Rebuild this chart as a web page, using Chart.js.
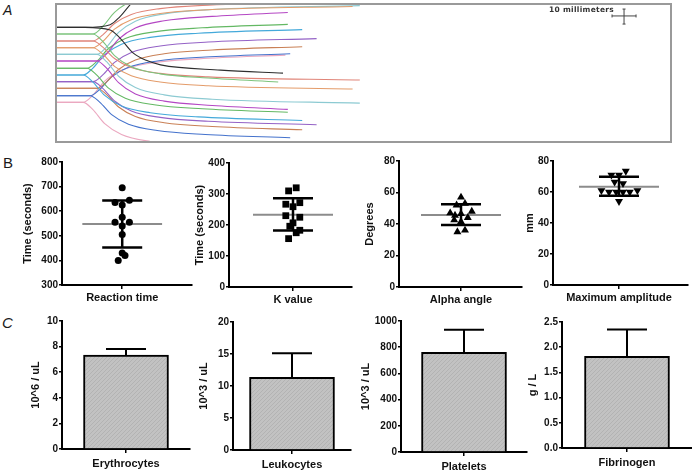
<!DOCTYPE html>
<html>
<head>
<meta charset="utf-8">
<script src="https://cdn.jsdelivr.net/npm/chart.js@4.4.1/dist/chart.umd.min.js"></script>
<style>
  body { margin: 0; background: #fff; }
  #page { position: relative; width: 692px; height: 473px; overflow: hidden;
          font-family: "Liberation Sans", Arial, sans-serif; color: #1a1a1a; }
  canvas { position: absolute; }
  .letter { position: absolute; font-family: "Liberation Sans", Arial, sans-serif; }
  #boxA { position: absolute; left: 55px; top: 3px; width: 617px; height: 140px;
          border: 2px solid #9a9a9a; box-sizing: border-box; }
  #scaleText { position: absolute; left: 549px; top: 5px; font: bold 7.5px "DejaVu Sans", sans-serif;
               color: #333; letter-spacing: 0.3px; white-space: nowrap; }
</style>
</head>
<body>
<div id="page">
  <div class="letter" style="left:3px;top:2px;font-size:14px;font-style:italic;">A</div>
  <div class="letter" style="left:3px;top:154px;font-size:15px;">B</div>
  <div class="letter" style="left:2px;top:314px;font-size:15px;font-style:italic;">C</div>
  <div id="boxA"><canvas id="tegChart" width="613" height="136" style="left:0;top:0"></canvas></div>
  <div id="scaleText">10 millimeters</div>
</div>
<script>
// ---- Panel A: thromboelastography traces, x = time (mm), y = amplitude (mm) ----
const tegColors = ['#2e2e2e', '#7cc47c', '#e08478', '#e49c6a', '#8ccad2', '#b447c4',
                   '#63b863', '#44a9da', '#9462c6', '#c98056', '#4472cc', '#eba8c0'];
const tegBaseline = [77.1, 72.7, 68.0, 63.5, 59.1, 54.7, 49.8, 45.3, 40.9, 36.5, 31.5, 27.1];
// [time, half amplitude]
const tegProfiles = [
  [[0,0],[12.5,0],[23,1.8],[27,7],[32.5,17],[38,22],[44,25],[69,28.5],[95,30.5]],
  [[0,0],[15.8,0],[19.8,4.8],[24.8,14.4],[31.8,21.8],[43.8,26.6],[63.8,29.4],[93,32]],
  [[0,0],[15.8,0],[19.8,3.9],[24.8,11.7],[31.8,17.7],[43.8,21.6],[63.8,23.9],[127,26]],
  [[0,0],[15.8,0],[19.8,4.1],[24.8,12.4],[31.8,18.7],[43.8,22.8],[63.8,25.3],[124,27.5]],
  [[0,0],[17.5,0],[21.5,4.9],[26.5,14.6],[33.5,22.1],[45.5,27],[65.5,29.9],[127,32.5]],
  [[0,0],[17.5,0],[21.5,4.8],[26.5,14.5],[33.5,22],[45.5,26.8],[65.5,29.7],[97,32.3]],
  [[0,0],[13.3,0],[17.3,4.4],[22.3,13.2],[29.3,19.9],[41.3,24.3],[61.3,27],[97,29.3]],
  [[0,0],[11.7,0],[15.7,4.5],[20.7,13.6],[27.7,20.6],[39.7,25.1],[59.7,27.9],[103,30.3]],
  [[0,0],[15.8,0],[19.8,4.3],[24.8,12.9],[31.8,19.5],[43.8,23.8],[63.8,26.4],[109,28.7]],
  [[0,0],[17.5,0],[21.5,4.2],[26.5,12.5],[33.5,18.8],[45.5,23],[65.5,25.5],[103,27.7]],
  [[0,0],[14.6,0],[18.6,4.2],[23.6,12.6],[30.6,19],[42.6,23.2],[62.6,25.8],[98,28]],
  [[0,0],[11.7,0],[15.7,4.7],[20.7,14.2],[27.7,21.4],[39.7,26.1],[59.7,29],[96,31.5]]
];
const scaleBarH = [{x: 232.1, y: 84.7}, {x: 242.1, y: 84.7}];
const scaleBarV = [{x: 237.1, y: 79.3}, {x: 237.1, y: 89.3}];

// ---- Panel B: scatter with mean and SD ----
const scatterNames = ['Reaction time', 'K value', 'Alpha angle', 'Maximum amplitude'];
const scatterUnits = ['Time (seconds)', 'Time (seconds)', 'Degrees', 'mm'];
const scatterMin = [300, 0, 0, 0];
const scatterMax = [800, 400, 80, 80];
const scatterStep = [100, 100, 20, 20];
const rtValues = [695, 635, 645, 625, 575, 555, 555, 540, 505, 430, 420, 400];
const rtJitter = [0, -0.18, 0.18, 0, 0, -0.18, 0.18, 0, 0, 0, 0.07, -0.1];
const kValues = [310, 320, 267, 272, 259, 230, 225, 207, 196, 183, 175, 156];
const kJitter = [-0.11, 0.08, -0.18, 0.17, 0, -0.18, 0.17, 0, -0.08, 0.17, 0.08, -0.11];
const alphaValues = [57, 52, 53, 47, 48, 45.5, 46.5, 44, 42.5, 41.5, 35, 36];
const alphaJitter = [0, -0.11, 0.1, -0.27, 0.27, -0.15, 0, 0.17, -0.17, 0, -0.09, 0.1];
const maValues = [73.5, 71, 71, 66.5, 65.5, 61, 60, 60, 60, 60, 61, 54];
const maJitter = [0.17, -0.19, 0, -0.11, 0.1, -0.44, -0.25, -0.07, 0.1, 0.27, 0.46, 0];
const scatterMean = [548, 233, 45.7, 63.4];
const scatterSdLow = [452, 182, 39.3, 57.6];
const scatterSdHigh = [643, 286, 52.5, 69.8];

// ---- Panel C: bars with SD ----
const cellCategories = ['Erythrocytes', 'Leukocytes', 'Platelets', 'Fibrinogen'];
const cellUnits = ['10^6 / uL', '10^3 / uL', '10^3 / uL', 'g / L'];
const cellMeans = [7.33, 11.35, 760, 1.82];
const cellErrTop = [7.82, 15.1, 934, 2.35];
const cellMax = [10, 20, 1000, 2.5];
const cellStep = [2, 5, 200, 0.5];
const cellDecimals = [0, 0, 0, 1];

Chart.defaults.font.family = '"Liberation Sans", Arial, sans-serif';
Chart.defaults.color = '#111';

// plot-area frames on the page (L,T,R,B) and y-axis box width
const frameB = [
  {L: 62, T: 162, R: 192, B: 285, W: 43, x0: -1.51, x1: 1.75},
  {L: 229, T: 163, R: 352, B: 287, W: 38, x0: -1.6, x1: 1.475},
  {L: 399, T: 161, R: 522, B: 287, W: 38, x0: -1.55, x1: 1.525},
  {L: 553, T: 161, R: 688, B: 285, W: 32, x0: -1.65, x1: 1.725}
];
const frameC = [
  {L: 62, T: 321, R: 190, B: 449, W: 35},
  {L: 233, T: 322, R: 351, B: 450, W: 38},
  {L: 401, T: 321, R: 527, B: 452, W: 44},
  {L: 562, T: 322, R: 692, B: 448, W: 38}
];

function addCanvas(f, padTop, padRight, xh) {
  const cv = document.createElement('canvas');
  const left = f.L - f.W, top = f.T - padTop;
  cv.width = f.R + padRight - left;
  cv.height = f.B + xh - top;
  cv.style.left = left + 'px';
  cv.style.top = top + 'px';
  document.getElementById('page').appendChild(cv);
  return cv;
}

const axisGrid = { drawOnChartArea: false, tickLength: 3, color: '#000', lineWidth: 1.5 };
const axisBorder = { display: true, color: '#000', width: 2 };

function yAxis(f, min, max, step, unit, dec) {
  return {
    min: min, max: max,
    afterFit: s => { s.width = f.W; },
    ticks: { stepSize: step, padding: 1, font: { size: 10, weight: 'bold' },
             callback: v => Number(v).toFixed(dec) },
    title: { display: true, text: unit, font: { size: 11, weight: 'bold' }, padding: { top: 2, bottom: 0 } },
    grid: axisGrid, border: axisBorder
  };
}

// Panel A
(function () {
  const sets = [];
  tegProfiles.forEach((prof, k) => {
    [1, -1].forEach(sign => {
      sets.push({
        data: prof.map(p => ({x: p[0], y: tegBaseline[k] + sign * p[1]})),
        showLine: true, borderColor: tegColors[k], borderWidth: 1.1, pointRadius: 0,
        cubicInterpolationMode: 'monotone'
      });
    });
  });
  sets.push({ data: scaleBarH, showLine: true, borderColor: '#444', borderWidth: 1,
              pointStyle: 'line', pointRotation: 90, pointRadius: 1.5, pointBorderColor: '#444', pointBorderWidth: 1 });
  sets.push({ data: scaleBarV, showLine: true, borderColor: '#444', borderWidth: 1,
              pointStyle: 'line', pointRotation: 0, pointRadius: 1.5, pointBorderColor: '#444', pointBorderWidth: 1 });
  new Chart(document.getElementById('tegChart'), {
    type: 'scatter',
    data: { datasets: sets },
    options: {
      responsive: false, animation: false, devicePixelRatio: 1,
      layout: { padding: 0, autoPadding: false },
      plugins: { legend: { display: false }, tooltip: { enabled: false } },
      scales: {
        x: { type: 'linear', display: false, min: 0.83, max: 256.25 },
        y: { type: 'linear', display: false, min: 1.33, max: 92 }
      }
    }
  });
})();

// Panel B
const scatterValues = [rtValues, kValues, alphaValues, maValues];
const scatterJitter = [rtJitter, kJitter, alphaJitter, maJitter];
const markerStyle = ['circle', 'rect', 'triangle', 'triangle'];
const markerRotation = [0, 0, 0, 180];
const markerRadius = [3.5, 4.8, 4.6, 4.6];

scatterNames.forEach((name, i) => {
  const f = frameB[i];
  const cv = addCanvas(f, 8, 4, 26);
  const pts = scatterValues[i].map((v, k) => ({x: scatterJitter[i][k], y: v}));
  new Chart(cv, {
    type: 'scatter',
    data: { datasets: [
      { data: pts, pointStyle: markerStyle[i], pointRotation: markerRotation[i], pointRadius: markerRadius[i],
        backgroundColor: '#000', borderColor: '#000', borderWidth: 0, order: 0 },
      { data: [{x: 0, y: scatterSdLow[i]}, {x: 0, y: scatterSdHigh[i]}], showLine: true,
        borderColor: '#000', borderWidth: 2.5, pointStyle: 'line', pointRadius: 20,
        pointBorderColor: '#000', pointBorderWidth: 2.5, order: 1 },
      { data: [{x: -1, y: scatterMean[i]}, {x: 1, y: scatterMean[i]}], showLine: true,
        borderColor: '#8c8c8c', borderWidth: 2, pointRadius: 0, order: 2 }
    ]},
    options: {
      responsive: false, animation: false, devicePixelRatio: 1,
      layout: { padding: { top: 8, right: 4, left: 0, bottom: 0 }, autoPadding: false },
      plugins: { legend: { display: false }, tooltip: { enabled: false } },
      scales: {
        x: { type: 'linear', min: f.x0, max: f.x1,
             afterBuildTicks: s => { s.ticks = [{value: 0}]; },
             afterFit: s => { s.height = 26; },
             ticks: { callback: () => name, maxRotation: 0, padding: 2, font: { size: 11, weight: 'bold' } },
             grid: Object.assign({}, axisGrid, { tickLength: 4 }), border: axisBorder },
        y: yAxis(f, scatterMin[i], scatterMax[i], scatterStep[i], scatterUnits[i], 0)
      }
    }
  });
});

// Panel C
function hatch() {
  const c = document.createElement('canvas');
  c.width = 4; c.height = 4;
  const g = c.getContext('2d');
  g.fillStyle = '#c2c2c2'; g.fillRect(0, 0, 4, 4);
  g.strokeStyle = '#b3b3b3'; g.lineWidth = 1;
  g.beginPath(); g.moveTo(0, 4); g.lineTo(4, 0); g.stroke();
  return g.createPattern(c, 'repeat');
}
const barFill = hatch();

cellCategories.forEach((cat, i) => {
  const f = frameC[i];
  const cv = addCanvas(f, 8, 4, 30);
  new Chart(cv, {
    type: 'bar',
    data: {
      labels: [cat],
      datasets: [
        { data: [cellMeans[i]], backgroundColor: barFill, borderColor: '#000', borderWidth: 2,
          barThickness: 85, order: 0 },
        { type: 'line', data: [{x: cat, y: cellMeans[i]}, {x: cat, y: cellErrTop[i]}],
          borderColor: '#000', borderWidth: 2, pointStyle: 'line', pointRadius: [0, 20],
          pointBorderColor: '#000', pointBorderWidth: 2, order: 1 }
      ]
    },
    options: {
      responsive: false, animation: false, devicePixelRatio: 1,
      layout: { padding: { top: 8, right: 4, left: 0, bottom: 0 }, autoPadding: false },
      plugins: { legend: { display: false }, tooltip: { enabled: false } },
      scales: {
        x: { afterFit: s => { s.height = 30; },
             ticks: { maxRotation: 0, padding: 4, font: { size: 11, weight: 'bold' } },
             grid: Object.assign({}, axisGrid, { tickLength: 4, offset: false }), border: axisBorder },
        y: yAxis(f, 0, cellMax[i], cellStep[i], cellUnits[i], cellDecimals[i])
      }
    }
  });
});
</script>
</body>
</html>
